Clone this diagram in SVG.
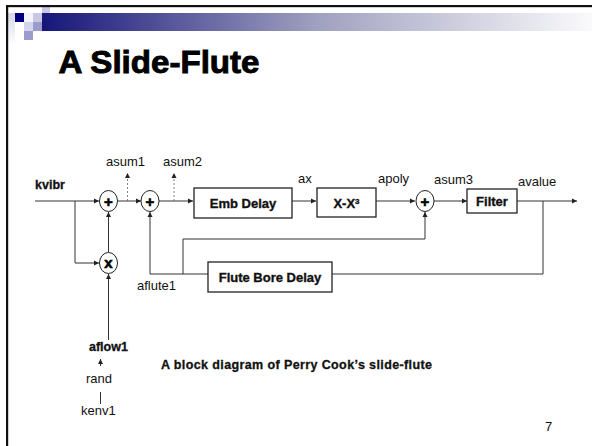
<svg xmlns="http://www.w3.org/2000/svg" width="592" height="446" viewBox="0 0 592 446">
<defs>
<linearGradient id="bar" x1="42" y1="0" x2="592" y2="0" gradientUnits="userSpaceOnUse">
<stop offset="0" stop-color="#16167a"/>
<stop offset="0.5" stop-color="#a0a0c0"/>
<stop offset="1" stop-color="#fafafc"/>
</linearGradient>
<linearGradient id="side" x1="0" y1="13" x2="0" y2="45" gradientUnits="userSpaceOnUse">
<stop offset="0" stop-color="#d8d8e8"/>
<stop offset="1" stop-color="#ffffff"/>
</linearGradient>
<marker id="ah" markerWidth="6" markerHeight="6" refX="5" refY="3" orient="auto" markerUnits="userSpaceOnUse">
<path d="M0,0.5 L5,3 L0,5.5 Z" fill="#222"/>
</marker>
</defs>
<style>
.ln{fill:none;stroke:#333;stroke-width:1}
.dash{fill:none;stroke:#666;stroke-width:0.8;stroke-dasharray:2,2}
.box{fill:#fff;stroke:#222;stroke-width:1.3}
.op{fill:#fff;stroke:#222;stroke-width:1}
.lbl{font-family:"Liberation Sans",Arial,sans-serif;font-size:13px;fill:#111}
.bt{font-family:"Liberation Sans",Arial,sans-serif;font-size:13px;font-weight:bold;fill:#111;stroke:#111;stroke-width:0.35;text-anchor:middle}
.sym{font-family:"Liberation Sans",Arial,sans-serif;font-size:15px;font-weight:bold;fill:#000;stroke:#000;stroke-width:0.6;text-anchor:middle}
.bl{font-weight:bold;stroke:#111;stroke-width:0.3;font-size:12.5px}
</style>
<rect width="592" height="446" fill="#fff"/>
<g id="header">
<rect x="8" y="13" width="7" height="32" fill="url(#side)"/>
<rect x="42" y="13" width="550" height="18" fill="url(#bar)"/>
<rect x="15" y="13" width="9" height="9" fill="#00007f"/>
<rect x="24" y="13" width="9" height="9" fill="#f4f4fa"/>
<rect x="33" y="13" width="9" height="9" fill="#c8c8e4"/>
<rect x="42" y="6" width="8" height="7" fill="#c8c8e4"/>
<rect x="24" y="22" width="9" height="9" fill="#d4d4ea"/>
<rect x="33" y="22" width="9" height="9" fill="#9c9ccc"/>
<rect x="24" y="31" width="9" height="9" fill="#9c9ccc"/>
<rect x="7" y="5" width="585" height="2.2" fill="#111"/>
<rect x="6" y="5" width="2.2" height="441" fill="#111"/>
<text x="58.5" y="73" font-family="'Liberation Sans',Arial,sans-serif" font-size="31" font-weight="bold" textLength="201" lengthAdjust="spacingAndGlyphs" fill="#000" stroke="#000" stroke-width="0.9">A Slide-Flute</text>
</g>
<g id="connectors">
<path class="ln" d="M35,201 H99" marker-end="url(#ah)"/>
<path class="ln" d="M75,201 V263 H99" marker-end="url(#ah)"/>
<path class="ln" d="M108.5,252 V212" marker-end="url(#ah)"/>
<path class="ln" d="M108.5,340 V274" marker-end="url(#ah)"/>
<path class="ln" d="M118,201 H141" marker-end="url(#ah)"/>
<path class="ln" d="M159,201 H193" marker-end="url(#ah)"/>
<path class="ln" d="M292,201 H316" marker-end="url(#ah)"/>
<path class="ln" d="M376,201 H415" marker-end="url(#ah)"/>
<path class="ln" d="M434,201 H467" marker-end="url(#ah)"/>
<path class="ln" d="M517,201 H577" marker-end="url(#ah)"/>
<path class="ln" d="M543,201 V274 H332"/>
<path class="ln" d="M208,274 H150 V212" marker-end="url(#ah)"/>
<path class="ln" d="M183,274 V239 H425 V212" marker-end="url(#ah)"/>
<path class="dash" d="M127.5,201 V173" marker-end="url(#ah)"/>
<path class="dash" d="M174,201 V173" marker-end="url(#ah)"/>
<path class="ln" d="M100.5,366 V359" marker-end="url(#ah)"/>
<path class="ln" d="M100.5,392 V404"/>
</g>
<g id="sum1"><ellipse class="op" cx="108.5" cy="201" rx="9" ry="10.5"/><text class="sym" x="108.5" y="206.5">+</text></g>
<g id="sum2"><ellipse class="op" cx="150" cy="201" rx="9" ry="10.5"/><text class="sym" x="150" y="206.5">+</text></g>
<g id="mul"><ellipse class="op" cx="108.5" cy="263" rx="9" ry="10.5"/><text class="sym" x="108.5" y="268" font-size="14">x</text></g>
<g id="sum3"><ellipse class="op" cx="425" cy="201" rx="9" ry="10.5"/><text class="sym" x="425" y="206.5">+</text></g>
<g id="emb"><rect class="box" x="194" y="188" width="98" height="30"/><text class="bt" x="243" y="208">Emb Delay</text></g>
<g id="cubic"><rect class="box" x="317" y="188" width="59" height="29"/><text class="bt" x="346.5" y="207.5">X-X<tspan font-size="8" dy="-4">3</tspan></text></g>
<g id="filter"><rect class="box" x="467" y="189" width="50" height="24"/><text class="bt" x="492" y="206">Filter</text></g>
<g id="bore"><rect class="box" x="208" y="262" width="124" height="30"/><text class="bt" x="270" y="282">Flute Bore Delay</text></g>
<g id="labels">
<text class="lbl bl" x="35" y="189">kvibr</text>
<text class="lbl" x="106" y="166">asum1</text>
<text class="lbl" x="163" y="166">asum2</text>
<text class="lbl" x="298" y="183">ax</text>
<text class="lbl" x="378" y="183">apoly</text>
<text class="lbl" x="434" y="184">asum3</text>
<text class="lbl" x="518" y="186">avalue</text>
<text class="lbl" x="137" y="290">aflute1</text>
<text class="lbl bl" x="89" y="351">aflow1</text>
<text class="lbl" x="86" y="383">rand</text>
<text class="lbl" x="81" y="415">kenv1</text>
<text class="lbl bl" x="161" y="369" textLength="271">A block diagram of Perry Cook’s slide-flute</text>
<text class="lbl" x="545" y="431" font-size="13">7</text>
</g>
</svg>
